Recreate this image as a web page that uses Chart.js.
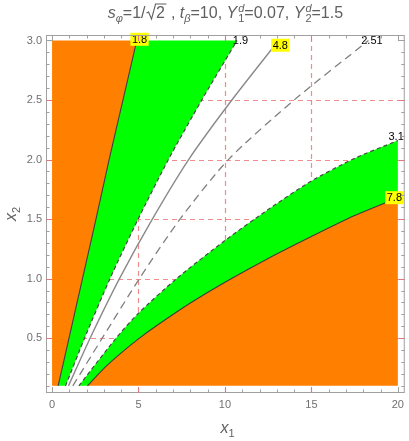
<!DOCTYPE html>
<html>
<head>
<meta charset="utf-8">
<script src="https://cdn.jsdelivr.net/npm/chart.js@4.4.1/dist/chart.umd.min.js"></script>
<style>
  body { margin: 0; background: #fff; }
  #wrap { width: 409px; height: 441px; position: relative; }
</style>
</head>
<body>
<div id="wrap"><canvas id="chart"></canvas></div>
<script>
// tick labels and grid
const xTicks = [0, 5, 10, 15, 20];
const yTicks = [0.5, 1.0, 1.5, 2.0, 2.5, 3.0];
const gridX = [5, 10, 15];
const gridY = [0.5, 1.0, 1.5, 2.0, 2.5];

// contour curves, [x1, x2]
const c18 = [[0.35, 0.1], [0.98, 0.5], [1.76, 1.0], [2.54, 1.5], [3.3, 2.0], [4.1, 2.5], [4.9, 3.0]];
const c19 = [[0.78, 0.1], [1.88, 0.5], [3.35, 1.0], [4.98, 1.5], [6.73, 2.0], [8.66, 2.5], [10.7, 3.0]];
const c48 = [[0.95, 0.1], [2.2, 0.5], [3.9, 1.0], [5.8, 1.5], [7.9, 2.0], [10.4, 2.5], [13.1, 3.0]];
const c251 = [[1.2, 0.1], [2.9, 0.5], [5.05, 1.0], [7.4, 1.5], [10.2, 2.0], [14.0, 2.5], [18.3, 3.0]];
const c31 = [[1.55, 0.1], [3.7, 0.5], [5, 0.71], [7.2, 1.0], [10, 1.32], [12.5, 1.58], [15, 1.82], [17.5, 2.01], [20, 2.16]];
const c78 = [[2.05, 0.1], [3, 0.247], [4, 0.377], [5, 0.495], [6, 0.6], [8, 0.795], [10, 0.97], [12.5, 1.17], [15, 1.354], [17.5, 1.53], [20, 1.68]];

// region bounds
const xLo = 0, xHi = 20, yLo = 0.1, yHi = 3.0;

// contour labels
const labelText = ['1.8', '1.9', '4.8', '2.51', '3.1', '7.8'];
const labelX = [5.06, 10.9, 13.2, 18.5, 19.9, 19.8];
const labelY = [3.01, 3.0, 2.96, 3.0, 2.19, 1.68];
const labelBox = [true, false, true, false, false, true];

const pts = a => a.map(p => ({x: p[0], y: p[1]}));
const rev = a => a.slice().reverse();
// join pieces into one outline; end points doubled so the spline keeps sharp corners
const outline = (...pieces) => pts([].concat(...pieces.map(p => [p[0]].concat(p, [p[p.length - 1]]))));

const orangeLeft = outline([[xLo, yLo], [xLo, yHi]], rev(c18));
const greenTop = outline(c18, rev(c19));
const greenLow = outline(c31, rev(c78));
const orangeLow = outline(c78, [[xHi, c78[c78.length - 1][1]], [xHi, yLo]]);

const ORANGE = 'rgb(255,128,0)';
const GREEN = 'rgb(0,255,0)';
const FONT = '"Liberation Sans", Arial, sans-serif';
const TENSION = 0.25;

function region(data, color) {
  return {data: data, fill: 'shape', backgroundColor: color, borderWidth: 0,
          pointRadius: 0, tension: TENSION, order: 2};
}
function curve(data, color, width, dash) {
  return {data: pts(data), fill: false, borderColor: color, borderWidth: width,
          borderDash: dash, pointRadius: 0, tension: TENSION, order: 1};
}

const framePlugin = {
  id: 'frame',
  beforeDraw(chart) {
    const {ctx, chartArea: a, scales: {x, y}} = chart;
    ctx.save();
    ctx.strokeStyle = 'rgba(240,120,120,0.85)';
    ctx.lineWidth = 1.2;
    ctx.setLineDash([5, 4]);
    gridX.forEach(v => {
      const px = Math.round(x.getPixelForValue(v)) + 0.5;
      ctx.beginPath(); ctx.moveTo(px, a.bottom); ctx.lineTo(px, a.top); ctx.stroke();
    });
    gridY.forEach(v => {
      const py = Math.round(y.getPixelForValue(v)) + 0.5;
      ctx.beginPath(); ctx.moveTo(a.left, py); ctx.lineTo(a.right, py); ctx.stroke();
    });
    ctx.restore();
  },
  afterDatasetsDraw(chart) {
    const {ctx, chartArea: a, scales: {x, y}} = chart;
    ctx.save();
    // contour labels
    ctx.font = '11px ' + FONT;
    ctx.textAlign = 'center';
    ctx.textBaseline = 'middle';
    labelText.forEach((t, i) => {
      const px = x.getPixelForValue(labelX[i]);
      const py = y.getPixelForValue(labelY[i]);
      if (labelBox[i]) {
        const w = ctx.measureText(t).width + 3;
        ctx.fillStyle = '#ffff00';
        ctx.fillRect(px - w / 2, py - 6.5, w, 13);
      }
      ctx.fillStyle = '#000';
      ctx.fillText(t, px, py + 0.5);
    });
    // frame
    ctx.strokeStyle = '#a0a0a0';
    ctx.lineWidth = 1;
    ctx.strokeRect(a.left + 0.5, a.top + 0.5, a.right - a.left - 1, a.bottom - a.top - 1);
    const tick = (x0, y0, x1, y1, col) => {
      ctx.strokeStyle = col;
      ctx.beginPath(); ctx.moveTo(x0, y0); ctx.lineTo(x1, y1); ctx.stroke();
    };
    for (let i = 0; i <= 20; i++) {
      const px = Math.round(x.getPixelForValue(i)) + 0.5;
      const major = i % 5 === 0;
      const len = major ? 6 : 3.5;
      const col = gridX.includes(i) ? '#e07a7a' : '#a0a0a0';
      tick(px, a.bottom, px, a.bottom - len, col);
      tick(px, a.top, px, a.top + len, col);
    }
    for (let i = 1; i <= 30; i++) {
      const v = i / 10;
      const py = Math.round(y.getPixelForValue(v)) + 0.5;
      const major = i % 5 === 0;
      const len = major ? 6 : 3.5;
      const col = gridY.some(g => Math.abs(g - v) < 1e-6) ? '#e07a7a' : '#a0a0a0';
      tick(a.left, py, a.left + len, py, col);
      tick(a.right, py, a.right - len, py, col);
    }
    ctx.restore();
  },
  afterDraw(chart) {
    const {ctx, chartArea: a} = chart;
    ctx.save();
    ctx.fillStyle = '#606060';
    ctx.strokeStyle = '#606060';
    ctx.textBaseline = 'alphabetic';
    ctx.textAlign = 'left';
    // title pieces: [text, italic, size, dy]
    const big = 16, small = 11;
    const parts = [
      ['s', 1, big, 0], ['φ', 1, small, 4],
      ['=1/', 0, big, 0], ['SQRT'],
      [' , ', 0, big, 0],
      ['t', 1, big, 0], ['β', 1, small, 4],
      ['=10, ', 0, big, 0],
      ['Y', 1, big, 0], ['STACK', 'd', '1'],
      ['=0.07, ', 0, big, 0],
      ['Y', 1, big, 0], ['STACK', 'd', '2'],
      ['=1.5', 0, big, 0]
    ];
    const setF = (it, s) => { ctx.font = (it ? 'italic ' : '') + s + 'px ' + FONT; };
    const widthOf = p => {
      if (p[0] === 'SQRT') { setF(0, big); return ctx.measureText('2').width + 12; }
      if (p[0] === 'STACK') { setF(1, small); return Math.max(ctx.measureText(p[1]).width, ctx.measureText(p[2]).width) + 1; }
      setF(p[1], p[2]); return ctx.measureText(p[0]).width;
    };
    const total = parts.reduce((s, p) => s + widthOf(p), 0);
    let cx = (a.left + a.right) / 2 - total / 2;
    const base = 18;
    parts.forEach(p => {
      const w = widthOf(p);
      if (p[0] === 'SQRT') {
        ctx.lineWidth = 1.1;
        ctx.beginPath();
        ctx.moveTo(cx + 1, base - 5);
        ctx.lineTo(cx + 3, base - 6);
        ctx.lineTo(cx + 6, base + 1);
        ctx.lineTo(cx + 10, base - 14);
        ctx.lineTo(cx + w, base - 14);
        ctx.stroke();
        setF(0, big);
        ctx.fillText('2', cx + 10.5, base);
      } else if (p[0] === 'STACK') {
        setF(1, small);
        ctx.fillText(p[1], cx + 1, base - 6);
        setF(0, small);
        ctx.fillText(p[2], cx + 1, base + 4);
      } else {
        setF(p[1], p[2]);
        ctx.fillText(p[0], cx, base + p[3]);
      }
      cx += w;
    });
    // x axis title
    setF(1, 16);
    const wx = ctx.measureText('x').width;
    const xc = (a.left + a.right) / 2;
    ctx.fillText('x', xc - 5, 433);
    setF(0, 11);
    ctx.fillText('1', xc - 5 + wx, 437);
    // y axis title
    ctx.translate(16, 214);
    ctx.rotate(-Math.PI / 2);
    setF(1, 16);
    ctx.fillText('x', -7, 0);
    setF(0, 11);
    ctx.fillText('2', -7 + wx, 4);
    ctx.restore();
  }
};

new Chart(document.getElementById('chart'), {
  type: 'line',
  data: {
    datasets: [
      region(orangeLeft, ORANGE),
      region(greenTop, GREEN),
      region(greenLow, GREEN),
      region(orangeLow, ORANGE),
      curve(c18, '#3c3c3c', 1.1, []),
      curve(c19, '#4a4a4a', 1.2, [4, 3]),
      curve(c48, '#8a8a8a', 1.4, []),
      curve(c251, '#808080', 1.3, [8, 5]),
      curve(c31, '#4a4a4a', 1.2, [4, 3]),
      curve(c78, '#3c3c3c', 1.1, [])
    ]
  },
  options: {
    responsive: true,
    maintainAspectRatio: false,
    animation: false,
    layout: {padding: {top: 35, right: 2, left: 0, bottom: 0}},
    plugins: {
      legend: {display: false},
      tooltip: {enabled: false},
      filler: {drawTime: 'beforeDatasetDraw'}
    },
    scales: {
      x: {
        type: 'linear', min: -0.35, max: 20.4,
        grid: {display: false, drawTicks: false},
        border: {display: false},
        afterBuildTicks: s => { s.ticks = xTicks.map(v => ({value: v})); },
        afterFit: s => { s.height = 48; },
        ticks: {color: '#707070', font: {size: 11, family: FONT}, padding: 5, maxRotation: 0,
                callback: v => String(v)}
      },
      y: {
        type: 'linear', min: 0.04, max: 3.046,
        grid: {display: false, drawTicks: false},
        border: {display: false},
        afterBuildTicks: s => { s.ticks = yTicks.map(v => ({value: v})); },
        afterFit: s => { s.width = 46; },
        ticks: {color: '#707070', font: {size: 11, family: FONT}, padding: 4,
                callback: v => Number(v).toFixed(1)}
      }
    }
  },
  plugins: [framePlugin]
});
</script>
</body>
</html>
